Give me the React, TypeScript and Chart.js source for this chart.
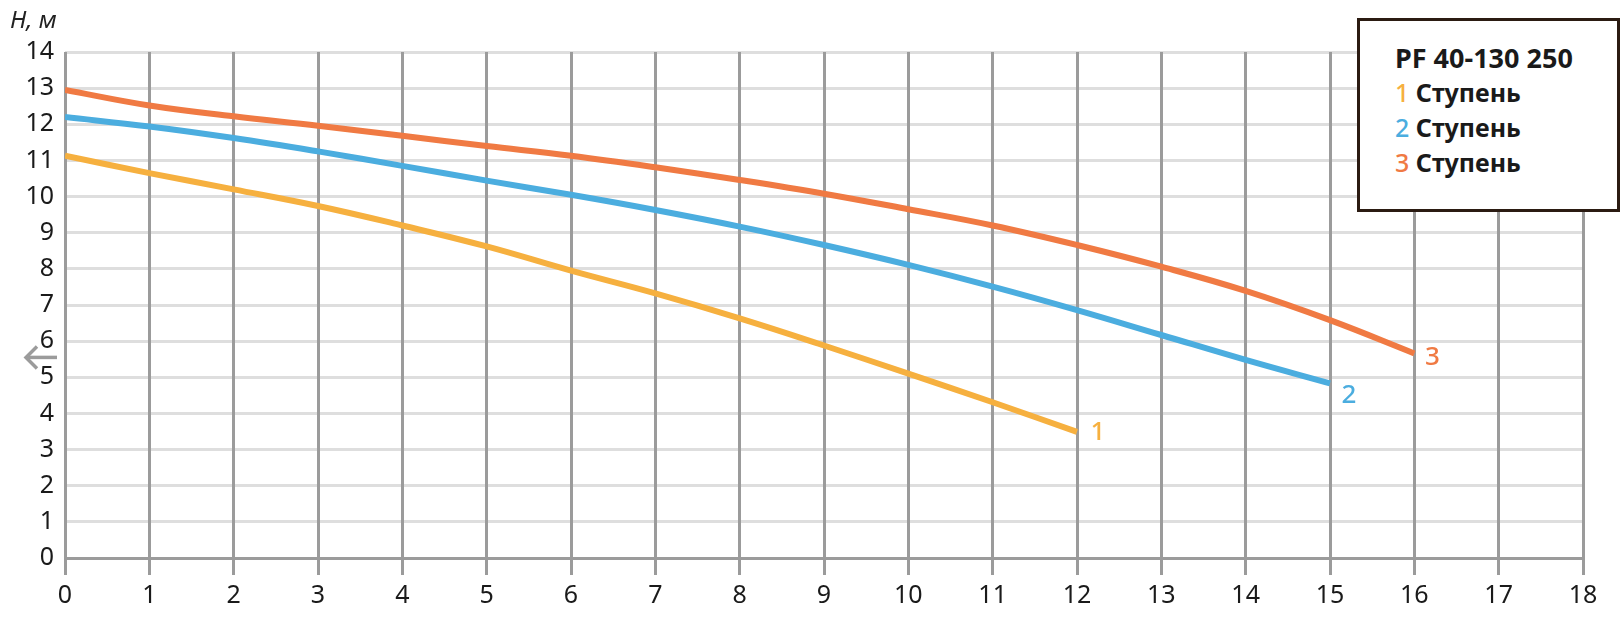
import React, { useEffect, useRef } from "react";
import { Chart, registerables } from "chart.js";

Chart.register(...registerables);

const flowQ = [0, 1, 2, 3, 4, 5, 6, 7, 8, 9, 10, 11, 12, 13, 14, 15, 16];
const stage1H = [11.13, 10.65, 10.2, 9.74, 9.2, 8.62, 7.95, 7.32, 6.63, 5.88, 5.1, 4.31, 3.49];
const stage2H = [12.2, 11.94, 11.62, 11.25, 10.85, 10.44, 10.05, 9.63, 9.17, 8.66, 8.11, 7.51, 6.86, 6.17, 5.48, 4.83];
const stage3H = [12.95, 12.52, 12.22, 11.96, 11.68, 11.4, 11.13, 10.81, 10.46, 10.08, 9.65, 9.2, 8.66, 8.06, 7.39, 6.58, 5.66];
const seriesLabels = ["1", "2", "3"];
const seriesColors = ["#F6B03F", "#4BADDF", "#F07A43"];
const legendTitle = "PF 40-130 250";
const legendItemText = "Ступень";
const yAxisTitle = "H, м";

const FONT = "'Noto Sans', 'Open Sans', sans-serif";

Chart.defaults.font.family = FONT;
Chart.defaults.font.size = 25;

const toPoints = (hs: number[]) => hs.map((h, i) => ({ x: flowQ[i], y: h }));

const endLabelOffsets = [
  { dx: 21, dy: 1 },
  { dx: 19, dy: 12 },
  { dx: 18, dy: 4 },
];

const overlayPlugin = {
  id: "overlay",
  afterDatasetsDraw(chart: any) {
    const ctx = chart.ctx;
    const xs = chart.scales.x;
    const ys = chart.scales.y;
    ctx.save();
    ctx.font = `500 26px ${FONT}`;
    ctx.textAlign = "center";
    ctx.textBaseline = "middle";
    chart.data.datasets.forEach((ds: any, i: number) => {
      const last = ds.data[ds.data.length - 1];
      const px = xs.getPixelForValue(last.x);
      const py = ys.getPixelForValue(last.y);
      ctx.fillStyle = seriesColors[i];
      ctx.fillText(seriesLabels[i], px + endLabelOffsets[i].dx, py + endLabelOffsets[i].dy);
    });
    const ay = ys.getPixelForValue(5.55);
    ctx.strokeStyle = "#9b9b9b";
    ctx.lineWidth = 3.5;
    ctx.lineCap = "butt";
    ctx.beginPath();
    ctx.moveTo(57, ay);
    ctx.lineTo(26, ay);
    ctx.stroke();
    ctx.beginPath();
    ctx.moveTo(37, ay - 11);
    ctx.lineTo(26, ay);
    ctx.lineTo(37, ay + 11);
    ctx.stroke();
    ctx.restore();
  },
};

export default function App() {
  const canvasRef = useRef<HTMLCanvasElement | null>(null);

  useEffect(() => {
    if (!canvasRef.current) return;
    const chart = new Chart(canvasRef.current, {
      type: "line",
      data: {
        datasets: [stage1H, stage2H, stage3H].map((hs, i) => ({
          label: seriesLabels[i],
          data: toPoints(hs),
          borderColor: seriesColors[i],
          backgroundColor: seriesColors[i],
          borderWidth: 6,
          pointRadius: 0,
          tension: 0.4,
          fill: false,
        })),
      },
      options: {
        animation: false,
        responsive: false,
        devicePixelRatio: 1,
        layout: { padding: { left: 0, top: 52, right: 40, bottom: 0 } },
        plugins: { legend: { display: false }, tooltip: { enabled: false } },
        scales: {
          y: {
            type: "linear",
            min: 0,
            max: 14,
            border: { display: false },
            grid: {
              color: (c: any) => (c.tick && c.tick.value === 0 ? "#9b9b9b" : "#dedede"),
              lineWidth: 3,
              drawTicks: false,
            },
            ticks: {
              stepSize: 1,
              padding: 11,
              color: "#1a1a1a",
              font: { family: FONT, size: 25 },
            },
            afterFit(scale: any) {
              scale.width = 65;
            },
          },
          x: {
            type: "linear",
            min: 0,
            max: 18,
            border: { display: false },
            grid: {
              color: "#9b9b9b",
              lineWidth: 3,
              drawTicks: true,
              tickLength: 17,
            },
            ticks: {
              stepSize: 1,
              padding: 6,
              color: "#1a1a1a",
              font: { family: FONT, size: 25 },
              maxRotation: 0,
            },
            afterFit(scale: any) {
              scale.height = 73;
            },
          },
        },
      },
      plugins: [overlayPlugin],
    });
    return () => chart.destroy();
  }, []);

  return (
    <div style={{ position: "absolute", left: 0, top: 0, width: 1623, height: 631, background: "#fff" }}>
      <canvas ref={canvasRef} width={1623} height={631} style={{ display: "block" }} />
      <div
        style={{
          position: "absolute",
          left: 10,
          top: 3,
          fontFamily: FONT,
          fontStyle: "italic",
          fontSize: 24,
          lineHeight: "32px",
          color: "#222",
        }}
      >
        {yAxisTitle}
      </div>
      <div
        style={{
          position: "absolute",
          left: 1357,
          top: 18,
          width: 257,
          height: 188,
          border: "3px solid #2b1b12",
          background: "#fff",
          fontFamily: FONT,
          fontWeight: 700,
          fontSize: 25,
          color: "#1a1a1a",
          boxSizing: "content-box",
        }}
      >
        <div style={{ position: "absolute", left: 35, top: 19, lineHeight: "35px", whiteSpace: "nowrap" }}>
          <div style={{ fontSize: 27 }}>{legendTitle}</div>
          {seriesLabels.map((l, i) => (
            <div key={l}>
              <span style={{ color: seriesColors[i], fontWeight: 500 }}>{l}</span> {legendItemText}
            </div>
          ))}
        </div>
      </div>
    </div>
  );
}
